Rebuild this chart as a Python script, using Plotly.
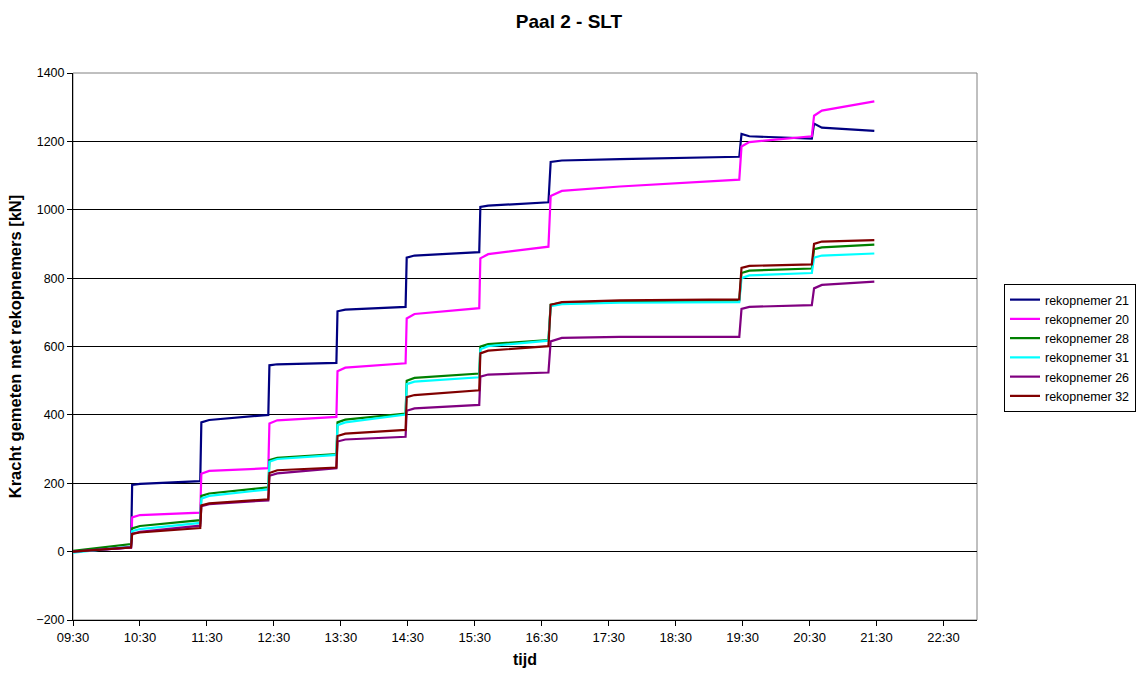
import plotly.graph_objects as go

DAY = "2000-01-01 "

# shared breakpoint times (HH:MM)
times = ["09:30", "10:22",
         "10:23", "10:30", "11:24",
         "11:25", "11:32", "12:25",
         "12:26", "12:33", "13:26",
         "13:27", "13:34", "14:28",
         "14:29", "14:36", "15:34",
         "15:35", "15:42", "16:36",
         "16:38", "16:48", "17:40", "19:27",
         "19:29", "19:36", "20:32",
         "20:34", "20:41", "21:28"]

rek21 = [0, 12, 195, 198, 206, 378, 385, 400, 545, 548, 552, 703, 708, 716,
         860, 866, 876, 1008, 1012, 1022, 1140, 1144, 1148, 1155,
         1222, 1215, 1208, 1252, 1240, 1231]
rek20 = [0, 12, 100, 107, 114, 228, 236, 244, 375, 384, 394, 528, 538, 551,
         682, 695, 712, 858, 870, 892, 1040, 1055, 1068, 1088,
         1185, 1198, 1215, 1275, 1290, 1317]
rek28 = [2, 22, 68, 75, 92, 163, 170, 188, 268, 274, 285, 378, 386, 404,
         500, 508, 521, 600, 607, 619, 722, 728, 733, 735,
         815, 822, 828, 885, 890, 898]
rek31 = [-3, 15, 60, 66, 84, 155, 163, 182, 263, 271, 283, 370, 378, 401,
         490, 497, 510, 592, 601, 617, 718, 724, 728, 730,
         800, 808, 815, 860, 866, 872]
rek26 = [0, 13, 52, 58, 76, 133, 139, 150, 222, 229, 244, 322, 328, 336,
         412, 419, 429, 512, 518, 524, 615, 625, 628, 628,
         710, 716, 721, 770, 780, 790]
rek32 = [0, 12, 52, 56, 69, 135, 141, 153, 230, 238, 246, 338, 345, 356,
         452, 458, 472, 580, 588, 601, 722, 730, 735, 738,
         830, 836, 840, 900, 907, 911]

series_names = ["rekopnemer 21", "rekopnemer 20", "rekopnemer 28",
                "rekopnemer 31", "rekopnemer 26", "rekopnemer 32"]
series_values = [rek21, rek20, rek28, rek31, rek26, rek32]
series_colors = ["#000080", "#FF00FF", "#008000", "#00FFFF", "#800080", "#800000"]

x_ticks = ["09:30", "10:30", "11:30", "12:30", "13:30", "14:30", "15:30",
           "16:30", "17:30", "18:30", "19:30", "20:30", "21:30", "22:30"]
y_ticks = [-200, 0, 200, 400, 600, 800, 1000, 1200, 1400]

FONT = "Liberation Sans, Arial, sans-serif"

W, H = 1138, 673
PL, PT, PR, PB = 73, 73, 977, 620   # plot area in page pixels

fig = go.Figure()
xs = [DAY + t for t in times]
for name, vals, col in zip(series_names, series_values, series_colors):
    fig.add_trace(go.Scatter(x=xs, y=vals, mode="lines", name=name,
                             line=dict(color=col, width=2.2)))

fig.update_layout(
    width=W, height=H,
    paper_bgcolor="white", plot_bgcolor="white",
    margin=dict(l=PL, r=W - PR, t=PT, b=H - PB, pad=0, autoexpand=False),
    title=dict(text="<b>Paal 2 - SLT</b>", x=569 / W, xanchor="center",
               y=1 - 21 / H, yanchor="middle", automargin=False,
               font=dict(family=FONT, size=19, color="black")),
    font=dict(family=FONT, size=12, color="black"),
    showlegend=True,
    legend=dict(x=(1004 - PL) / (PR - PL), xanchor="left",
                y=(PB - 284) / (PB - PT), yanchor="top",
                bgcolor="white", bordercolor="black", borderwidth=1,
                font=dict(family=FONT, size=12.5, color="black"),
                tracegroupgap=0, itemwidth=30),
    xaxis=dict(type="date", automargin=False,
               range=[DAY + "09:30", DAY + "23:00"],
               tickvals=[DAY + t for t in x_ticks], ticktext=x_ticks,
               showgrid=False, zeroline=False,
               showline=True, linecolor="black", linewidth=1,
               ticks="outside", ticklen=5, tickcolor="black",
               tickfont=dict(family=FONT, size=13),
               title=dict(text="<b>tijd</b>", font=dict(family=FONT, size=16), standoff=10)),
    yaxis=dict(range=[-200, 1400], tickvals=y_ticks, automargin=False,
               showgrid=True, gridcolor="black", gridwidth=1,
               zeroline=True, zerolinecolor="black", zerolinewidth=1,
               showline=True, linecolor="black", linewidth=1,
               ticks="outside", ticklen=5, tickcolor="black",
               tickfont=dict(family=FONT, size=12.5),
               title=dict(text="<b>Kracht gemeten met rekopnemers [kN]</b>",
                          font=dict(family=FONT, size=16.5), standoff=10)),
)

fig.add_shape(type="rect", xref="paper", yref="paper", x0=0, x1=1, y0=0, y1=1,
              line=dict(color="#808080", width=1), layer="below")

fig.write_html("out.html",
               config={"displayModeBar": False},
               post_script="document.body.style.margin='0';"
                           "document.body.style.overflow='hidden';")
